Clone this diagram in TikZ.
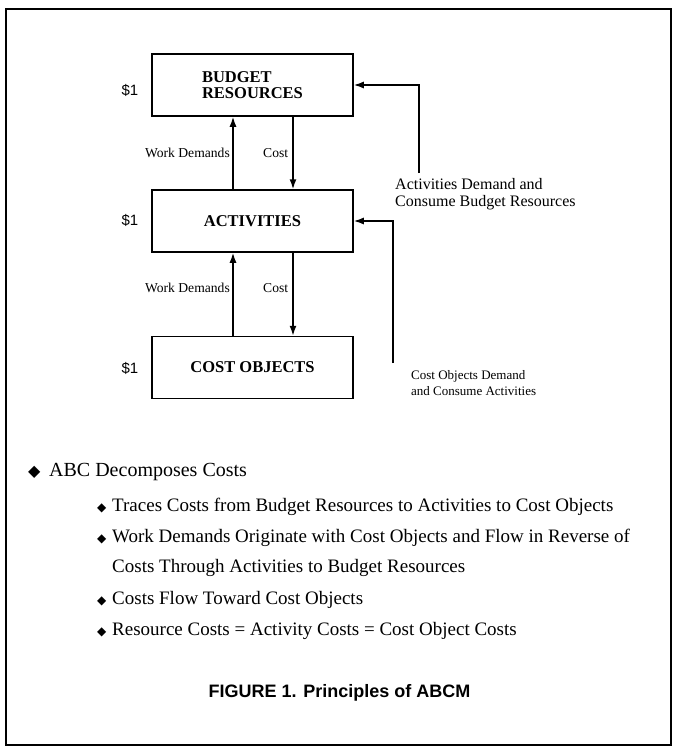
\documentclass[tikz,border=0pt]{standalone}
\usepackage{fontspec}
\setmainfont{Liberation Serif}
\setsansfont{Liberation Sans}
\newfontfamily\symfont{DejaVu Sans}
\usetikzlibrary{arrows.meta}
\begin{document}
\begin{tikzpicture}[x=1pt,y=-1pt,
  box/.style={draw,line width=1.5pt,minimum width=201pt,minimum height=62pt,inner sep=0pt,font=\fontsize{16.5}{16.5}\selectfont\bfseries,align=left},
  dollar/.style={font=\sffamily\fontsize{15}{15}\selectfont,inner sep=0pt},
  small/.style={font=\fontsize{13.6}{13.6}\selectfont,inner sep=0pt},
  side/.style={align=left,inner sep=0pt,anchor=west},
  bul/.style={font=\fontsize{19}{19}\selectfont,inner sep=0pt,anchor=base west},
  conn/.style={line width=1.5pt,-{Latex[length=10pt,width=7pt]}},
]
\useasboundingbox (0,0) rectangle (678,747);
\draw[line width=1.8pt] (6,9) rectangle (671,745);
% boxes
\node[box] (br) at (252.5,85) {BUDGET\\RESOURCES};
\node[box] (ac) at (252.5,221) {ACTIVITIES};
\node[box] (co) at (252.5,367.5) {COST OBJECTS};
% dollar labels
\node[dollar] (d1) at (130,90) {\$1};
\node[dollar] (d2) at (130,220) {\$1};
\node[dollar] (d3) at (130,368) {\$1};
% vertical connectors
\draw[conn] ([xshift=-19.5pt]ac.north) -- ([xshift=-19.5pt]br.south);
\draw[conn] ([xshift=40.5pt]br.south) -- ([xshift=40.5pt]ac.north);
\draw[conn] ([xshift=-19.5pt]co.north) -- ([xshift=-19.5pt]ac.south);
\draw[conn] ([xshift=40.5pt]ac.south) -- ([xshift=40.5pt]co.north);
\node[small,anchor=east] (w1) at (230,153) {Work Demands};
\node[small,anchor=west] (c1) at (263,153) {Cost};
\node[small,anchor=east] (w2) at (230,288) {Work Demands};
\node[small,anchor=west] (c2) at (263,288) {Cost};
% feedback connectors
\coordinate (f1) at (419,173);
\coordinate (f2) at (393,363);
\draw[conn] (f1) |- (br.east);
\draw[conn] (f2) |- (ac.east);
\node[side,font=\fontsize{16}{16.5}\selectfont] (t1) at (395,194) {Activities Demand and\\Consume Budget Resources};
\node[side,font=\fontsize{13}{16}\selectfont] (t2) at (411,383) {Cost Objects Demand\\and Consume Activities};
% bullets
\node[bul,font=\fontsize{20}{20}\selectfont] (b0) at (28,476) {\makebox[21pt][l]{\symfont\fontsize{16}{16}\selectfont ◆}ABC Decomposes Costs};
\node[bul] (b1) at (97,511) {\makebox[15pt][l]{\symfont\fontsize{12}{12}\selectfont ◆}Traces Costs from Budget Resources to Activities to Cost Objects};
\node[bul] (b2) at (97,542) {\makebox[15pt][l]{\symfont\fontsize{12}{12}\selectfont ◆}Work Demands Originate with Cost Objects and Flow in Reverse of};
\node[bul] (b2b) at (112,572) {Costs Through Activities to Budget Resources};
\node[bul] (b3) at (97,604) {\makebox[15pt][l]{\symfont\fontsize{12}{12}\selectfont ◆}Costs Flow Toward Cost Objects};
\node[bul] (b4) at (97,635) {\makebox[15pt][l]{\symfont\fontsize{12}{12}\selectfont ◆}Resource Costs = Activity Costs = Cost Object Costs};
% caption
\node[font=\sffamily\bfseries\fontsize{18}{18}\selectfont,inner sep=0pt] (cap) at (339.5,693) {FIGURE 1. Principles of ABCM};
\end{tikzpicture}
\end{document}
